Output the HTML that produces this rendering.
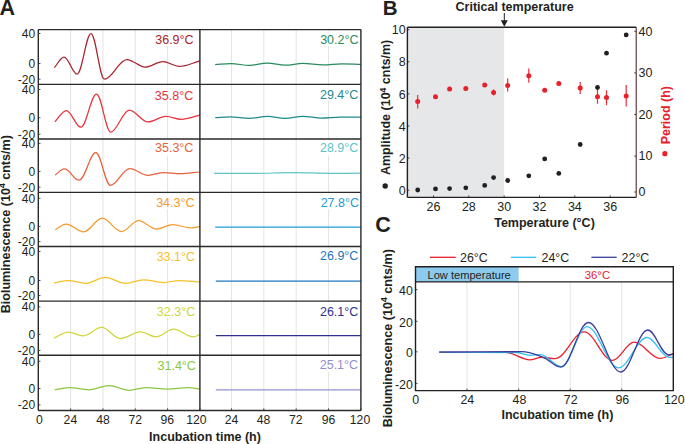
<!DOCTYPE html>
<html><head><meta charset="utf-8"><style>
html,body{margin:0;padding:0;background:#fff;}
body{width:685px;height:444px;overflow:hidden;}
svg{display:block;}
</style></head><body>
<svg width="685" height="444" viewBox="0 0 685 444">
<rect width="685" height="444" fill="#fff"/>
<g font-family='"Liberation Sans", sans-serif'>
<text x="-0.6" y="14.6" font-size="21.5" font-weight="bold" fill="#231f20">A</text>
<path d="M70.62,29.6V84.4M102.94,29.6V84.4M135.26,29.6V84.4M167.58,29.6V84.4M231.46,29.6V84.4M263.82,29.6V84.4M296.18,29.6V84.4M328.54,29.6V84.4M70.62,84.4V139M102.94,84.4V139M135.26,84.4V139M167.58,84.4V139M231.46,84.4V139M263.82,84.4V139M296.18,84.4V139M328.54,84.4V139M70.62,139V192.4M102.94,139V192.4M135.26,139V192.4M167.58,139V192.4M231.46,139V192.4M263.82,139V192.4M296.18,139V192.4M328.54,139V192.4M70.62,192.4V246.5M102.94,192.4V246.5M135.26,192.4V246.5M167.58,192.4V246.5M231.46,192.4V246.5M263.82,192.4V246.5M296.18,192.4V246.5M328.54,192.4V246.5M70.62,246.5V301.1M102.94,246.5V301.1M135.26,246.5V301.1M167.58,246.5V301.1M231.46,246.5V301.1M263.82,246.5V301.1M296.18,246.5V301.1M328.54,246.5V301.1M70.62,301.1V355.3M102.94,301.1V355.3M135.26,301.1V355.3M167.58,301.1V355.3M231.46,301.1V355.3M263.82,301.1V355.3M296.18,301.1V355.3M328.54,301.1V355.3M70.62,355.3V410.5M102.94,355.3V410.5M135.26,355.3V410.5M167.58,355.3V410.5M231.46,355.3V410.5M263.82,355.3V410.5M296.18,355.3V410.5M328.54,355.3V410.5" stroke="#dcdcdc" stroke-width="0.8" fill="none"/>
<path d="M54.4,67.6 C57.86,63.78 60.54,57 64,57 C68.72,57 72.38,74.2 77.1,74.2 C82.1,74.2 86,33.6 91,33.6 C95.82,33.6 99.58,79.2 104.4,79.2 C112.46,79.2 118.74,59.5 126.8,59.5 C133.42,59.5 138.58,67.1 145.2,67.1 C151.57,67.1 156.53,61.6 162.9,61.6 C168.8,61.6 173.4,66.4 179.3,66.4 C186.72,66.4 192.48,62.82 199.9,60.8" stroke="#a8232d" stroke-width="1.25" fill="none"/>
<path d="M54.9,121.9 C59,117.8 62.2,110.5 66.3,110.5 C71.56,110.5 75.64,127.2 80.9,127.2 C86.52,127.2 90.88,94.1 96.5,94.1 C101.61,94.1 105.59,132 110.7,132 C117.4,132 122.6,110 129.3,110 C135.96,110 141.14,121.9 147.8,121.9 C154.32,121.9 159.38,116.3 165.9,116.3 C171.44,116.3 175.76,119.3 181.3,119.3 C188,119.3 193.2,116.61 199.9,115.1" stroke="#e8323c" stroke-width="1.25" fill="none"/>
<path d="M55.2,175 C58.51,172.8 61.09,168.9 64.4,168.9 C69.69,168.9 73.81,180.2 79.1,180.2 C85.11,180.2 89.79,152.7 95.8,152.7 C101.06,152.7 105.14,185.3 110.4,185.3 C117.35,185.3 122.75,168.6 129.7,168.6 C136.25,168.6 141.35,175.3 147.9,175.3 C153.62,175.3 158.08,172.5 163.8,172.5 C169.81,172.5 174.49,173.7 180.5,173.7 C187.48,173.7 192.92,172.61 199.9,172" stroke="#e8613a" stroke-width="1.25" fill="none"/>
<path d="M55.2,229.7 C59.16,227.65 62.24,224 66.2,224 C72.5,224 77.4,231.8 83.7,231.8 C90.36,231.8 95.54,218.2 102.2,218.2 C109.11,218.2 114.49,231.5 121.4,231.5 C127.59,231.5 132.41,220.7 138.6,220.7 C144.9,220.7 149.8,229 156.1,229 C162.11,229 166.79,224.6 172.8,224.6 C179.28,224.6 184.32,227.9 190.8,227.9 C194.08,227.9 196.62,226.94 199.9,226.4" stroke="#f39a2e" stroke-width="1.25" fill="none"/>
<path d="M53.9,283 C59.26,282.1 63.44,280.5 68.8,280.5 C74.81,280.5 79.49,283.3 85.5,283.3 C92.63,283.3 98.17,277.4 105.3,277.4 C112.5,277.4 118.1,283.3 125.3,283.3 C131.78,283.3 136.82,279.9 143.3,279.9 C150.68,279.9 156.42,282.5 163.8,282.5 C169.34,282.5 173.66,280.5 179.2,280.5 C186.65,280.5 192.45,281.46 199.9,282" stroke="#f7c12a" stroke-width="1.25" fill="none"/>
<path d="M53.9,338.2 C59.08,335.97 63.12,332 68.3,332 C73.56,332 77.64,335.9 82.9,335.9 C89.67,335.9 94.93,327.4 101.7,327.4 C108.36,327.4 113.54,338.5 120.2,338.5 C127.58,338.5 133.32,331.8 140.7,331.8 C146.24,331.8 150.56,336.9 156.1,336.9 C162.4,336.9 167.3,329.2 173.6,329.2 C180.69,329.2 186.21,336.9 193.3,336.9 C195.68,336.9 197.52,335.3 199.9,334.4" stroke="#cfd63a" stroke-width="1.25" fill="none"/>
<path d="M54.6,389.8 C60.11,388.97 64.39,387.5 69.9,387.5 C76.74,387.5 82.06,389.8 88.9,389.8 C96.14,389.8 101.76,385.6 109,385.6 C116.2,385.6 121.8,390.3 129,390.3 C135.41,390.3 140.39,387.5 146.8,387.5 C154.04,387.5 159.66,389.1 166.9,389.1 C174.57,389.1 180.53,387.5 188.2,387.5 C192.41,387.5 195.69,388.52 199.9,389.1" stroke="#8cc640" stroke-width="1.25" fill="none"/>
<path d="M215.2,64.7 C220.82,64.3 225.18,63.6 230.8,63.6 C237.6,63.6 242.9,65.4 249.7,65.4 C256.07,65.4 261.03,63 267.4,63 C273.92,63 278.98,65.2 285.5,65.2 C291.69,65.2 296.51,63.4 302.7,63.4 C309.97,63.4 315.63,64.9 322.9,64.9 C329.7,64.9 335,63.8 341.8,63.8 C348.68,63.8 354.02,64.18 360.9,64.4" stroke="#2a8a5c" stroke-width="1.25" fill="none"/>
<path d="M215.2,117.6 C220.64,117.31 224.86,116.8 230.3,116.8 C237.28,116.8 242.72,118.3 249.7,118.3 C256.07,118.3 261.03,116.3 267.4,116.3 C273.74,116.3 278.66,118.3 285,118.3 C291.37,118.3 296.33,116.3 302.7,116.3 C309.5,116.3 314.8,118.1 321.6,118.1 C328.22,118.1 333.38,117.1 340,117.1 C347.52,117.1 353.38,117.1 360.9,117.1" stroke="#1f8a8c" stroke-width="1.25" fill="none"/>
<path d="M214.2,173.3 C227.09,173.34 237.11,173.4 250,173.4 C266.2,173.4 278.8,172.6 295,172.6 C307.6,172.6 317.4,173.3 330,173.3 C341.12,173.3 349.78,173.24 360.9,173.2" stroke="#5cc4c8" stroke-width="1.25" fill="none"/>
<path d="M215.2,227.1 C267.65,227.1 308.45,227.1 360.9,227.1" stroke="#1e9ad8" stroke-width="1.25" fill="none"/>
<path d="M215.8,281.1 C268.04,281.1 308.66,281.1 360.9,281.1" stroke="#1b76bd" stroke-width="1.25" fill="none"/>
<path d="M215.8,335.7 C268.04,335.7 308.66,335.7 360.9,335.7" stroke="#2e3192" stroke-width="1.25" fill="none"/>
<path d="M215.8,389.8 C268.04,389.8 308.66,389.8 360.9,389.8" stroke="#8f8fd0" stroke-width="1.25" fill="none"/>
<rect x="153.8" y="30.9" width="41" height="15.2" fill="#fff"/>
<text x="193.6" y="43.9" font-size="12.5" fill="#a8232d" text-anchor="end">36.9°C</text>
<rect x="153.4" y="85.7" width="41" height="15.2" fill="#fff"/>
<text x="193.2" y="99.6" font-size="12.5" fill="#e8323c" text-anchor="end">35.8°C</text>
<rect x="153.6" y="140.3" width="41" height="15.2" fill="#fff"/>
<text x="193.4" y="151.9" font-size="12.5" fill="#e8613a" text-anchor="end">35.3°C</text>
<rect x="154.7" y="193.7" width="41" height="15.2" fill="#fff"/>
<text x="194.5" y="207.1" font-size="12.5" fill="#f39a2e" text-anchor="end">34.3°C</text>
<rect x="155.2" y="247.8" width="41" height="15.2" fill="#fff"/>
<text x="195" y="260.6" font-size="12.5" fill="#f7c12a" text-anchor="end">33.1°C</text>
<rect x="155.4" y="302.4" width="41" height="15.2" fill="#fff"/>
<text x="195.2" y="315.6" font-size="12.5" fill="#cfd63a" text-anchor="end">32.3°C</text>
<rect x="156.1" y="356.6" width="41" height="15.2" fill="#fff"/>
<text x="195.9" y="369.6" font-size="12.5" fill="#8cc640" text-anchor="end">31.4°C</text>
<rect x="318.7" y="30.9" width="41" height="15.2" fill="#fff"/>
<text x="358.5" y="43.5" font-size="12.5" fill="#2a8a5c" text-anchor="end">30.2°C</text>
<rect x="318.5" y="85.7" width="41" height="15.2" fill="#fff"/>
<text x="358.3" y="99.3" font-size="12.5" fill="#1f8a8c" text-anchor="end">29.4°C</text>
<rect x="318.5" y="140.3" width="41" height="15.2" fill="#fff"/>
<text x="358.3" y="151.9" font-size="12.5" fill="#5cc4c8" text-anchor="end">28.9°C</text>
<rect x="319.2" y="193.7" width="41" height="15.2" fill="#fff"/>
<text x="359" y="207.1" font-size="12.5" fill="#1e9ad8" text-anchor="end">27.8°C</text>
<rect x="318.6" y="247.8" width="41" height="15.2" fill="#fff"/>
<text x="358.4" y="260" font-size="12.5" fill="#1b76bd" text-anchor="end">26.9°C</text>
<rect x="318.5" y="302.4" width="41" height="15.2" fill="#fff"/>
<text x="358.3" y="316.1" font-size="12.5" fill="#2e3192" text-anchor="end">26.1°C</text>
<rect x="318.3" y="356.6" width="41" height="15.2" fill="#fff"/>
<text x="358.1" y="369.4" font-size="12.5" fill="#8f8fd0" text-anchor="end">25.1°C</text>
<path d="M38.3,29.6H360.9M38.3,84.4H360.9M38.3,139H360.9M38.3,192.4H360.9M38.3,246.5H360.9M38.3,301.1H360.9M38.3,355.3H360.9M38.3,410.5H360.9M38.3,29.6V410.5M199.9,29.6V410.5M360.9,29.6V410.5" stroke="#2a2a2a" stroke-width="1.4" fill="none"/>
<path d="M38.3,33.5h2.2M38.3,63.5h2.2M38.3,79.2h2.2M38.3,89.5h2.2M38.3,117.8h2.2M38.3,134.2h2.2M38.3,143.4h2.2M38.3,171.4h2.2M38.3,187.2h2.2M38.3,198.3h2.2M38.3,226.4h2.2M38.3,241.6h2.2M38.3,251.5h2.2M38.3,280.5h2.2M38.3,295.5h2.2M38.3,306.9h2.2M38.3,334.3h2.2M38.3,350.4h2.2M38.3,361.2h2.2M38.3,388.5h2.2M38.3,404.9h2.2M70.62,410.5v-2.2M102.94,410.5v-2.2M135.26,410.5v-2.2M167.58,410.5v-2.2M199.9,410.5v-2.2M231.46,410.5v-2.2M263.82,410.5v-2.2M296.18,410.5v-2.2M328.54,410.5v-2.2M360.9,410.5v-2.2" stroke="#2a2a2a" stroke-width="0.8" fill="none"/>
<g font-size="12" fill="#231f20" text-anchor="end"><text x="35.2" y="37.8">40</text><text x="35.2" y="67.8">0</text><text x="35.2" y="83.5">-20</text><text x="35.2" y="93.8">40</text><text x="35.2" y="122.1">0</text><text x="35.2" y="138.5">-20</text><text x="35.2" y="147.7">40</text><text x="35.2" y="175.7">0</text><text x="35.2" y="191.5">-20</text><text x="35.2" y="202.6">40</text><text x="35.2" y="230.7">0</text><text x="35.2" y="245.9">-20</text><text x="35.2" y="255.8">40</text><text x="35.2" y="284.8">0</text><text x="35.2" y="299.8">-20</text><text x="35.2" y="311.2">40</text><text x="35.2" y="338.6">0</text><text x="35.2" y="354.7">-20</text><text x="35.2" y="365.5">40</text><text x="35.2" y="392.8">0</text><text x="35.2" y="409.2">-20</text></g>
<g font-size="12.2" fill="#231f20" text-anchor="middle"><text x="39.4" y="424.2">0</text><text x="70.4" y="424.2">24</text><text x="103" y="424.2">48</text><text x="135.3" y="424.2">72</text><text x="167.3" y="424.2">96</text><text x="196.4" y="424.2">120</text><text x="231.5" y="424.2">24</text><text x="263.6" y="424.2">48</text><text x="295.8" y="424.2">72</text><text x="328.5" y="424.2">96</text><text x="360" y="424.2">120</text></g>
<text x="149.1" y="441" font-size="12.5" font-weight="bold" fill="#231f20">Incubation time (h)</text>
<text transform="translate(9.9,224.2) rotate(-90)" font-size="12.6" font-weight="bold" fill="#231f20" text-anchor="middle">Bioluminescence (10<tspan font-size="8.5" dy="-4.6">4</tspan><tspan dy="4.6"> cnts/m)</tspan></text>
<rect x="407.4" y="27.2" width="96.78" height="170.2" fill="#e6e7e9"/>
<text x="455.6" y="11.2" font-size="12.5" font-weight="bold" fill="#231f20">Critical temperature</text>
<path d="M504.3,13V21" stroke="#231f20" stroke-width="1"/>
<path d="M500.8,20.3L507.8,20.3L504.3,26.8Z" fill="#231f20"/>
<text x="382.8" y="15.1" font-size="20.5" font-weight="bold" fill="#231f20">B</text>
<path d="M417.7,94.9V108.4M493.6,89.4V95.4M507.7,78.5V91.5M528.8,68.6V82.7M580.2,81.9V94M597.5,89.6V103.8M606.5,90.3V105.2M626.2,85V106.6" stroke="#ea2c36" stroke-width="1.2" fill="none"/>
<circle cx="417.7" cy="101.6" r="2.5" fill="#e8202a"/>
<circle cx="435.5" cy="96.8" r="2.5" fill="#e8202a"/>
<circle cx="449.6" cy="88.9" r="2.5" fill="#e8202a"/>
<circle cx="465.8" cy="88.6" r="2.5" fill="#e8202a"/>
<circle cx="484.7" cy="84.9" r="2.5" fill="#e8202a"/>
<circle cx="493.6" cy="92.4" r="2.5" fill="#e8202a"/>
<circle cx="507.7" cy="85.4" r="2.5" fill="#e8202a"/>
<circle cx="528.8" cy="75.7" r="2.5" fill="#e8202a"/>
<circle cx="544.7" cy="90.3" r="2.5" fill="#e8202a"/>
<circle cx="558.8" cy="83.6" r="2.5" fill="#e8202a"/>
<circle cx="580.2" cy="88.1" r="2.5" fill="#e8202a"/>
<circle cx="597.5" cy="96.8" r="2.5" fill="#e8202a"/>
<circle cx="606.5" cy="97.6" r="2.5" fill="#e8202a"/>
<circle cx="626.2" cy="96" r="2.5" fill="#e8202a"/>
<circle cx="417.7" cy="190" r="2.4" fill="#231f20"/>
<circle cx="435.5" cy="188.9" r="2.4" fill="#231f20"/>
<circle cx="449.6" cy="188.6" r="2.4" fill="#231f20"/>
<circle cx="465.8" cy="187.8" r="2.4" fill="#231f20"/>
<circle cx="484.7" cy="185.4" r="2.4" fill="#231f20"/>
<circle cx="493.6" cy="177.6" r="2.4" fill="#231f20"/>
<circle cx="507.7" cy="180.5" r="2.4" fill="#231f20"/>
<circle cx="528.8" cy="175.8" r="2.4" fill="#231f20"/>
<circle cx="544.7" cy="158.9" r="2.4" fill="#231f20"/>
<circle cx="558.8" cy="173.4" r="2.4" fill="#231f20"/>
<circle cx="580.2" cy="144.5" r="2.4" fill="#231f20"/>
<circle cx="597.5" cy="87.5" r="2.4" fill="#231f20"/>
<circle cx="606.5" cy="53.2" r="2.4" fill="#231f20"/>
<circle cx="626.2" cy="34.9" r="2.4" fill="#231f20"/>
<path d="M407.4,27.2H636.2 M407.4,27.2V197.4 M407.4,197.4H636.2" stroke="#231f20" stroke-width="1.4" fill="none"/>
<path d="M636.2,27.2V197.4" stroke="#4a1f25" stroke-width="1.05" fill="none"/>
<path d="M407.4,190.2h2M407.4,158.1h2M407.4,126h2M407.4,93.9h2M407.4,61.8h2M407.4,29.7h2M636.2,192h-2M636.2,156.1h-2M636.2,114.5h-2M636.2,72.9h-2M636.2,31.3h-2M433.5,197.4v-2M468.84,197.4v-2M504.18,197.4v-2M539.52,197.4v-2M574.86,197.4v-2M610.2,197.4v-2" stroke="#231f20" stroke-width="0.8" fill="none"/>
<g font-size="12.5" fill="#231f20"><text x="405.6" y="194.8" text-anchor="end">0</text><text x="405.6" y="162.7" text-anchor="end">2</text><text x="405.6" y="130.6" text-anchor="end">4</text><text x="405.6" y="98.5" text-anchor="end">6</text><text x="405.6" y="66.4" text-anchor="end">8</text><text x="405.6" y="34.3" text-anchor="end">10</text><text x="638.6" y="196.3">0</text><text x="638.6" y="160.4">10</text><text x="638.6" y="118.8">20</text><text x="638.6" y="77.2">30</text><text x="638.6" y="35.6">40</text><text x="433.5" y="211" text-anchor="middle">26</text><text x="468.84" y="211" text-anchor="middle">28</text><text x="504.18" y="211" text-anchor="middle">30</text><text x="539.52" y="211" text-anchor="middle">32</text><text x="574.86" y="211" text-anchor="middle">34</text><text x="610.2" y="211" text-anchor="middle">36</text></g>
<text x="544.5" y="227" font-size="12.5" font-weight="bold" fill="#231f20" text-anchor="middle">Temperature (°C)</text>
<text transform="translate(390.3,107.4) rotate(-90)" font-size="12.5" font-weight="bold" fill="#231f20" text-anchor="middle">Amplitude (10<tspan font-size="8.5" dy="-4.6">4</tspan><tspan dy="4.6"> cnts/m)</tspan></text>
<circle cx="385.2" cy="186" r="2.7" fill="#231f20"/>
<text transform="translate(670.4,115.2) rotate(-90)" font-size="12.5" font-weight="bold" fill="#e8202a" text-anchor="middle">Period (h)</text>
<circle cx="664.9" cy="153.7" r="2.6" fill="#e8202a"/>
<text x="375.3" y="231.6" font-size="21.5" font-weight="bold" fill="#231f20">C</text>
<path d="M430,257.3H455.7" stroke="#e8202a" stroke-width="1.3"/>
<path d="M510.9,257.3H536.2" stroke="#36c0f0" stroke-width="1.3"/>
<path d="M591.4,257.3H616.7" stroke="#3b3f9a" stroke-width="1.3"/>
<g font-size="12.4" fill="#231f20"><text x="460" y="261.5">26°C</text><text x="541.5" y="261.5">24°C</text><text x="621.6" y="261.5">22°C</text></g>
<rect x="415.5" y="266.8" width="103.12" height="15.1" fill="#8dcbee"/>
<text x="427.5" y="278.6" font-size="11.1" fill="#231f20">Low temperature</text>
<text x="584.8" y="278.6" font-size="11.3" fill="#e8202a">36°C</text>
<path d="M467.06,281.9V390.6M518.62,281.9V390.6M570.18,281.9V390.6M621.74,281.9V390.6" stroke="#dcdcdc" stroke-width="0.8" fill="none"/>
<path d="M439.3,352.2 C463.31,352.27 481.99,352.4 506,352.4 C514.57,352.4 521.23,359.9 529.8,359.9 C534.01,359.9 537.29,357.3 541.5,357.3 C546.32,357.3 550.08,358.7 554.9,358.7 C565.45,358.7 573.65,331.9 584.2,331.9 C594.32,331.9 602.18,360.4 612.3,360.4 C620.18,360.4 626.32,342.2 634.2,342.2 C643.45,342.2 650.65,358.4 659.9,358.4 C664.72,358.4 668.48,355.39 673.3,353.7" stroke="#e8202a" stroke-width="1.3" fill="none"/>
<path d="M439.3,352.2 C466.91,352.31 488.39,352.5 516,352.5 C521.04,352.5 524.96,355.3 530,355.3 C533.71,355.3 536.59,354.6 540.3,354.6 C547.86,354.6 553.74,366.6 561.3,366.6 C570.59,366.6 577.81,326.7 587.1,326.7 C598.37,326.7 607.13,367.9 618.4,367.9 C628.77,367.9 636.83,337.5 647.2,337.5 C655.05,337.5 661.15,357.4 669,357.4 C670.55,357.4 671.75,357.27 673.3,357.2" stroke="#36c0f0" stroke-width="1.3" fill="none"/>
<path d="M439.3,352.2 C469.14,352.02 492.36,351.7 522.2,351.7 C529.76,351.7 535.64,354.65 543.2,357.3 C549.5,359.5 554.4,367.1 560.7,367.1 C570.67,367.1 578.43,322.5 588.4,322.5 C600.06,322.5 609.14,372 620.8,372 C630.52,372 638.08,330 647.8,330 C655.25,330 661.05,354.8 668.5,354.8 C670.23,354.8 671.57,354.48 673.3,354.3" stroke="#3b3f9a" stroke-width="1.3" fill="none"/>
<path d="M415.5,266.8H673.3 V390.6 H415.5 Z M415.5,281.9H673.3" stroke="#231f20" stroke-width="1.4" fill="none"/>
<path d="M415.5,289.6h2M415.5,321.3h2M415.5,351.8h2M415.5,383.4h2M467.06,390.6v-2M518.62,390.6v-2M570.18,390.6v-2M621.74,390.6v-2" stroke="#231f20" stroke-width="0.8" fill="none"/>
<g font-size="12.4" fill="#231f20"><text x="412.9" y="295" text-anchor="end">40</text><text x="412.9" y="326.7" text-anchor="end">20</text><text x="412.9" y="357.2" text-anchor="end">0</text><text x="412.9" y="388.8" text-anchor="end">-20</text><text x="415.8" y="403.7" text-anchor="middle">0</text><text x="467.3" y="403.7" text-anchor="middle">24</text><text x="519.4" y="403.7" text-anchor="middle">48</text><text x="570.7" y="403.7" text-anchor="middle">72</text><text x="622.3" y="403.7" text-anchor="middle">96</text><text x="674.3" y="403.7" text-anchor="middle">120</text></g>
<text x="501.5" y="418.6" font-size="12.5" font-weight="bold" fill="#231f20">Incubation time (h)</text>
<text transform="translate(391.5,338.2) rotate(-90)" font-size="12.6" font-weight="bold" fill="#231f20" text-anchor="middle">Bioluminescence (10<tspan font-size="8.5" dy="-4.6">4</tspan><tspan dy="4.6"> cnts/m)</tspan></text>
</g></svg>
</body></html>
